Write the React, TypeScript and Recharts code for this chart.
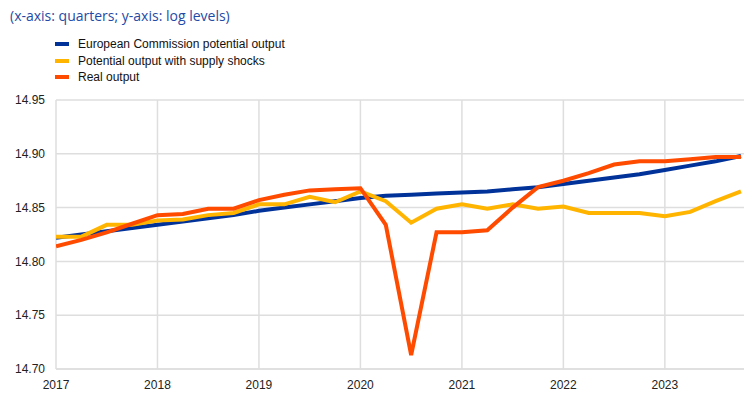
import React from "react";
import { LineChart, Line, XAxis, YAxis, CartesianGrid } from "recharts";

// quarters 2017Q1 .. 2023Q4
const quarters = [
  2017, 2017.25, 2017.5, 2017.75,
  2018, 2018.25, 2018.5, 2018.75,
  2019, 2019.25, 2019.5, 2019.75,
  2020, 2020.25, 2020.5, 2020.75,
  2021, 2021.25, 2021.5, 2021.75,
  2022, 2022.25, 2022.5, 2022.75,
  2023, 2023.25, 2023.5, 2023.75,
];

const ecPotential = [
  14.822, 14.825, 14.828, 14.831, 14.834, 14.837, 14.840, 14.843,
  14.847, 14.850, 14.853, 14.856, 14.859, 14.861, 14.862, 14.863,
  14.864, 14.865, 14.867, 14.869, 14.872, 14.875, 14.878, 14.881,
  14.885, 14.889, 14.893, 14.898,
];

const supplyShocks = [
  14.823, 14.823, 14.834, 14.834, 14.838, 14.839, 14.843, 14.845,
  14.853, 14.853, 14.860, 14.855, 14.865, 14.856, 14.836, 14.849,
  14.853, 14.849, 14.853, 14.849, 14.851, 14.845, 14.845, 14.845,
  14.842, 14.846, 14.856, 14.865,
];

const realOutput = [
  14.814, 14.820, 14.827, 14.835, 14.843, 14.844, 14.849, 14.849,
  14.857, 14.862, 14.866, 14.867, 14.868, 14.834, 14.713, 14.827,
  14.827, 14.829, 14.850, 14.869, 14.875, 14.882, 14.890, 14.893,
  14.893, 14.895, 14.897, 14.897,
];

const yearTicks = [2017, 2018, 2019, 2020, 2021, 2022, 2023];
const yTicks = [14.7, 14.75, 14.8, 14.85, 14.9, 14.95];

const BLUE = "#003299";
const YELLOW = "#FFB400";
const RED = "#FF4B00";

const series = [
  { key: "ec", name: "European Commission potential output", color: BLUE },
  { key: "supply", name: "Potential output with supply shocks", color: YELLOW },
  { key: "real", name: "Real output", color: RED },
];

const data = quarters.map((t, i) => ({
  t,
  ec: ecPotential[i],
  supply: supplyShocks[i],
  real: realOutput[i],
}));

const tickStyle = { fontFamily: "'Liberation Sans', Arial, sans-serif", fontSize: 12, fill: "#222" };

export default function App() {
  return (
    <div style={{ position: "absolute", left: 0, top: 0, width: 752, height: 397, background: "#fff" }}>
      <div
        style={{
          position: "absolute",
          left: 10,
          top: 6,
          fontFamily: "'Open Sans', sans-serif",
          fontSize: 14,
          color: "#1f4aa6",
          whiteSpace: "nowrap",
        }}
      >
        (x-axis: quarters; y-axis: log levels)
      </div>

      <div style={{ position: "absolute", left: 55, top: 36 }}>
        {series.map((s) => (
          <div
            key={s.key}
            style={{
              display: "flex",
              alignItems: "center",
              height: 16.5,
              fontFamily: "'Liberation Sans', Arial, sans-serif",
              fontSize: 12,
              color: "#111",
              whiteSpace: "nowrap",
            }}
          >
            <span style={{ display: "inline-block", width: 14, height: 4, background: s.color, marginRight: 9 }} />
            {s.name}
          </div>
        ))}
      </div>

      <LineChart width={752} height={397} data={data} margin={{ top: 100, right: 8, bottom: 0, left: 0 }}>
        <CartesianGrid stroke="#dedede" strokeWidth={1.5} verticalValues={yearTicks} horizontalValues={yTicks} />
        <XAxis
          dataKey="t"
          type="number"
          domain={[2017, 2023.78]}
          ticks={yearTicks}
          allowDataOverflow
          tickFormatter={(v: number) => String(Math.round(v))}
          tickLine={false}
          axisLine={{ stroke: "#dedede", strokeWidth: 1.5 }}
          tickMargin={5}
          tick={tickStyle}
          height={28}
        />
        <YAxis
          type="number"
          domain={[14.7, 14.95]}
          ticks={yTicks}
          allowDataOverflow
          tickFormatter={(v: number) => v.toFixed(2)}
          tickLine={false}
          axisLine={false}
          tickMargin={5}
          tick={tickStyle}
          width={56}
        />
        {series.map((s) => (
          <Line
            key={s.key}
            dataKey={s.key}
            name={s.name}
            type="linear"
            stroke={s.color}
            strokeWidth={4}
            dot={false}
            isAnimationActive={false}
          />
        ))}
      </LineChart>
    </div>
  );
}
